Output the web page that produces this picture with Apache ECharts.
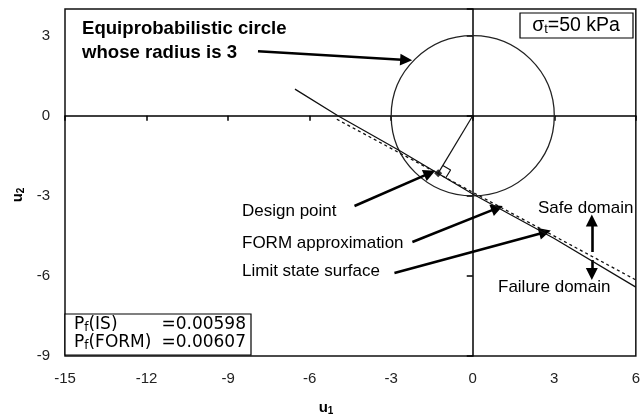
<!DOCTYPE html>
<html>
<head>
<meta charset="utf-8">
<script src="https://cdn.jsdelivr.net/npm/echarts@6/dist/echarts.min.js"></script>
<style>
html, body { margin: 0; padding: 0; background: #fff; }
#chart { width: 643px; height: 414px; }
</style>
</head>
<body>
<div id="chart"></div>
<script>
// axis ranges (u1, u2) and tick step
var xRange = [-15, 6];
var yRange = [-9, 4];
var tickStep = 3;

// equiprobabilistic circle: center and radius
var circleCenter = [0, 0];
var circleRadius = 3;

// curves
var limitState = [[-6.54, 1.0], [-4.96, 0], [-2.7, -1.3], [0, -2.93], [3, -4.6], [6, -6.42]];
var formLine = [[-5, -0.13], [6, -6.15]];
var designPoint = [[-1.27, -2.15]];
var radiusLine = [[0, 0], [-1.27, -2.15]];
var rightAngle = [[-1.10, -1.86], [-0.815, -2.03], [-0.99, -2.32]];

// annotation arrows [from, to]
var arrows = [
  [[-7.9, 2.42], [-2.45, 2.09]],
  [[-4.35, -3.38], [-1.58, -2.15]],
  [[-2.22, -4.73], [0.9, -3.46]],
  [[-2.88, -5.89], [2.66, -4.36]],
  [[4.38, -5.1], [4.38, -3.92]],
  [[4.38, -5.4], [4.38, -5.93]]
];

// probabilities of failure
var pfNames = ['IS', 'FORM'];
var pfValues = ['0.00598', '0.00607'];

var FONT = 'Arial, "Liberation Sans", sans-serif';
var chart = echarts.init(document.getElementById('chart'));

var gLeft = 65, gTop = 9, gRight = 6, gBottom = 58;

var graphics = [
  {
    type: 'text', left: 82, top: 17, z: 10,
    style: { text: 'Equiprobabilistic circle\nwhose radius is 3', font: 'bold 18.6px ' + FONT, lineHeight: 24, fill: '#000' }
  },
  {
    type: 'rect', shape: { x: 520, y: 13, width: 113, height: 25 }, z: 10,
    style: { fill: '#fff', stroke: '#000', lineWidth: 1.2 }
  },
  {
    type: 'text', x: 576, y: 26, z: 11,
    style: {
      text: '{a|σ}{s|t}{a|=50 kPa}', align: 'center', verticalAlign: 'middle',
      rich: {
        a: { fontSize: 19.5, fontFamily: FONT, fill: '#000', lineHeight: 20 },
        s: { fontSize: 13, fontFamily: FONT, fill: '#000', lineHeight: 12, verticalAlign: 'bottom' }
      }
    }
  },
  { type: 'text', x: 242, y: 211, z: 10, style: { text: 'Design point', font: '17px ' + FONT, fill: '#000', verticalAlign: 'middle' } },
  { type: 'text', x: 242, y: 243, z: 10, style: { text: 'FORM approximation', font: '17px ' + FONT, fill: '#000', verticalAlign: 'middle' } },
  { type: 'text', x: 242, y: 271, z: 10, style: { text: 'Limit state surface', font: '17px ' + FONT, fill: '#000', verticalAlign: 'middle' } },
  { type: 'text', x: 538, y: 208, z: 10, style: { text: 'Safe domain', font: '17px ' + FONT, fill: '#000', verticalAlign: 'middle' } },
  { type: 'text', x: 498, y: 287, z: 10, style: { text: 'Failure domain', font: '17px ' + FONT, fill: '#000', verticalAlign: 'middle' } },
  {
    type: 'rect', shape: { x: 65, y: 314, width: 186, height: 41 }, z: 10,
    style: { fill: '#fff', stroke: '#000', lineWidth: 1.2 }
  },
  {
    type: 'text', x: 326, y: 408, z: 10,
    style: {
      text: '{a|u}{s|1}', align: 'center', verticalAlign: 'middle',
      rich: {
        a: { fontSize: 15, fontWeight: 'bold', fontFamily: FONT, fill: '#000', lineHeight: 16 },
        s: { fontSize: 10, fontWeight: 'bold', fontFamily: FONT, fill: '#000', lineHeight: 10, verticalAlign: 'bottom' }
      }
    }
  },
  {
    type: 'text', x: 18, y: 195, rotation: Math.PI / 2, z: 10,
    style: {
      text: '{a|u}{s|2}', align: 'center', verticalAlign: 'middle',
      rich: {
        a: { fontSize: 15, fontWeight: 'bold', fontFamily: FONT, fill: '#000', lineHeight: 16 },
        s: { fontSize: 10, fontWeight: 'bold', fontFamily: FONT, fill: '#000', lineHeight: 10, verticalAlign: 'bottom' }
      }
    }
  }
];

pfNames.forEach(function (n, i) {
  var y = 325 + i * 18;
  graphics.push({
    type: 'text', x: 74, y: y, z: 11,
    style: {
      text: '{a|P}{s|f}{a|(' + n + ')}', verticalAlign: 'middle',
      rich: {
        a: { fontSize: 17, fontFamily: '"DejaVu Sans", sans-serif', fill: '#000', lineHeight: 18 },
        s: { fontSize: 12, fontFamily: '"DejaVu Sans", sans-serif', fill: '#000', lineHeight: 12, verticalAlign: 'bottom' }
      }
    }
  });
  graphics.push({
    type: 'text', x: 246, y: y, z: 11,
    style: { text: '=' + pfValues[i], align: 'right', verticalAlign: 'middle', font: '17px "DejaVu Sans", sans-serif', fill: '#000' }
  });
});

var labelStyle = { color: '#222', fontSize: 15, fontFamily: FONT };

var option = {
  animation: false,
  backgroundColor: '#fff',
  grid: {
    left: gLeft, top: gTop, right: gRight, bottom: gBottom,
    show: true, borderColor: '#111', borderWidth: 1.5, backgroundColor: 'transparent'
  },
  xAxis: [
    {
      type: 'value', min: xRange[0], max: xRange[1], interval: tickStep, position: 'bottom',
      axisLine: { show: false }, axisTick: { show: false }, splitLine: { show: false },
      axisLabel: Object.assign({ margin: 15 }, labelStyle)
    },
    {
      type: 'value', min: xRange[0], max: xRange[1], interval: tickStep, position: 'bottom',
      axisLine: { show: true, onZero: true, lineStyle: { color: '#000', width: 1.5 } },
      axisTick: { show: true, length: 5, lineStyle: { color: '#000', width: 1.5 } },
      axisLabel: { show: false }, splitLine: { show: false }
    }
  ],
  yAxis: [
    {
      type: 'value', min: yRange[0], max: yRange[1], interval: tickStep, position: 'left',
      axisLine: { show: false }, axisTick: { show: false }, splitLine: { show: false },
      axisLabel: Object.assign({ margin: 15, showMaxLabel: false }, labelStyle)
    },
    {
      type: 'value', min: yRange[0], max: yRange[1], interval: tickStep, position: 'left',
      axisLine: { show: true, onZero: true, lineStyle: { color: '#000', width: 1.5 } },
      axisTick: { show: true, length: 6, lineStyle: { color: '#000', width: 1.5 } },
      axisLabel: { show: false }, splitLine: { show: false }
    }
  ],
  series: [
    {
      type: 'custom',
      data: [[circleCenter[0], circleCenter[1], circleRadius]],
      encode: { x: 0, y: 1 },
      renderItem: function (params, api) {
        var c = api.coord([api.value(0), api.value(1)]);
        var s = api.size([api.value(2), api.value(2)]);
        return {
          type: 'ellipse',
          shape: { cx: c[0], cy: c[1], rx: s[0], ry: s[1] },
          style: { fill: 'none', stroke: '#222', lineWidth: 1.3 }
        };
      },
      silent: true
    },
    {
      type: 'line', data: limitState, symbol: 'none', silent: true,
      lineStyle: { color: '#111', width: 1.3 }
    },
    {
      type: 'line', data: formLine, symbol: 'none', silent: true,
      lineStyle: { color: '#111', width: 1.3, type: [3, 3] }
    },
    {
      type: 'line', data: radiusLine, symbol: 'none', silent: true,
      lineStyle: { color: '#111', width: 1.2 }
    },
    {
      type: 'line', data: rightAngle, symbol: 'none', silent: true,
      lineStyle: { color: '#111', width: 1.2 }
    },
    {
      type: 'scatter', data: designPoint, symbol: 'diamond', symbolSize: 8, silent: true,
      itemStyle: { color: '#000' }
    },
    {
      type: 'lines', coordinateSystem: 'cartesian2d', silent: true,
      symbol: ['none', 'triangle'], symbolSize: [9, 12],
      lineStyle: { color: '#000', width: 2.6, opacity: 1, curveness: 0 },
      data: arrows.map(function (a) { return { coords: a }; })
    }
  ],
  graphic: graphics
};

chart.setOption(option);
</script>
</body>
</html>
